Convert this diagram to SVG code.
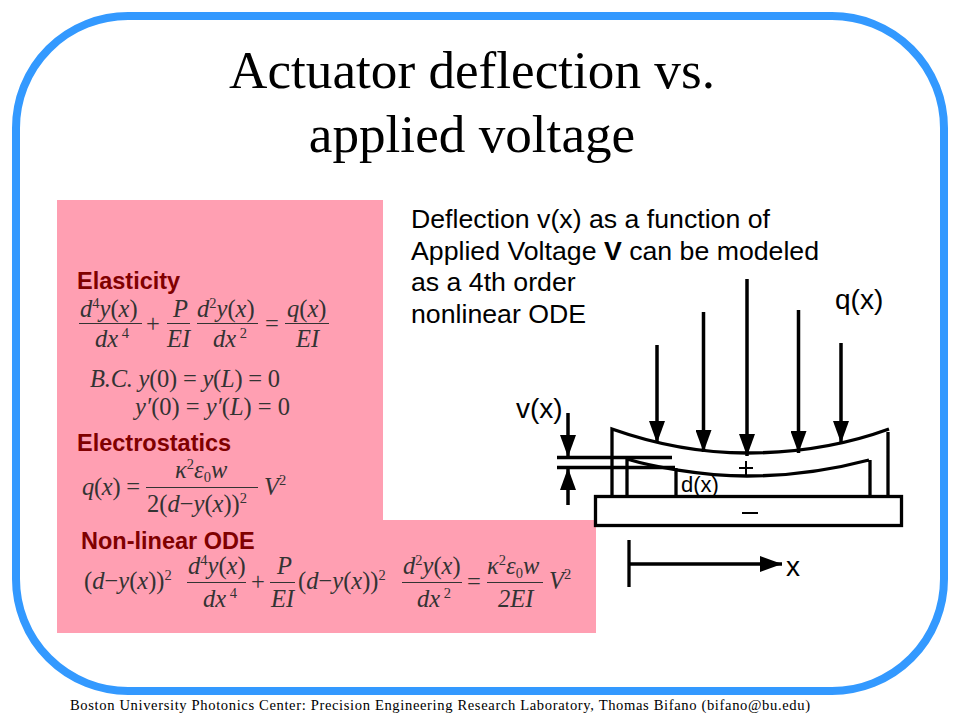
<svg xmlns="http://www.w3.org/2000/svg" width="960" height="720" viewBox="0 0 960 720">
<style>
.title{font:53.2px "Liberation Serif",serif;fill:#000;text-anchor:middle}
.body{font:26.7px "Liberation Sans",Arial,sans-serif;fill:#000}
.lab{font:28px "Liberation Sans",Arial,sans-serif;fill:#000}
.head{font:bold 23.5px "Liberation Sans",Arial,sans-serif;fill:#800000}
.foot{font:14.6px "Liberation Serif",serif;fill:#000}
.eq{font:italic 24.5px "Liberation Serif",serif;fill:#333}
.up{font-style:normal}
.sup{font-size:14.5px;font-style:normal}
.fr{stroke:#333;stroke-width:1;fill:none}
.ln{stroke:#000;stroke-width:3.3;fill:none}
.ar{stroke:#000;stroke-width:3.500;fill:none;marker-end:url(#ah)}
</style>
<defs>
<marker id="ah" markerUnits="userSpaceOnUse" markerWidth="24" markerHeight="16" refX="22" refY="8" orient="auto"><path d="M0 0L22 8L0 16Z" fill="#000"/></marker>
</defs>
<rect width="960" height="720" fill="#fff"/>
<rect x="16" y="16" width="928" height="675" rx="112" ry="112" fill="#fff" stroke="#3399ff" stroke-width="8"/>
<path d="M57 200H383V520H596V633H57Z" fill="#ff9fb2"/>
<text class="title" x="472" y="88">Actuator deflection vs.</text>
<text class="title" x="472" y="152">applied voltage</text>
<g id="description">
<text class="body" x="411" y="228">Deflection v(x) as a function of</text>
<text class="body" x="411" y="260">Applied Voltage <tspan font-weight="bold">V</tspan> can be modeled</text>
<text class="body" x="411" y="291">as a 4th order</text>
<text class="body" x="411" y="323">nonlinear ODE</text>
</g>
<g id="elasticity">
<text class="head" x="77" y="289">Elasticity</text>
<text class="eq" x="80" y="317">d<tspan class="sup" dy="-9">4</tspan><tspan dy="9">y</tspan><tspan class="up">(</tspan>x<tspan class="up">)</tspan></text>
<text class="eq" x="95" y="347">dx<tspan class="sup" dy="-9"> 4</tspan></text>
<text class="eq up" x="146" y="332">+</text>
<text class="eq" x="173" y="317">P</text>
<text class="eq" x="167" y="347">EI</text>
<text class="eq" x="197" y="317">d<tspan class="sup" dy="-9">2</tspan><tspan dy="9">y</tspan><tspan class="up">(</tspan>x<tspan class="up">)</tspan></text>
<text class="eq" x="213" y="347">dx<tspan class="sup" dy="-9"> 2</tspan></text>
<text class="eq up" x="265" y="332">=</text>
<text class="eq" x="287" y="317">q<tspan class="up">(</tspan>x<tspan class="up">)</tspan></text>
<text class="eq" x="296" y="347">EI</text>
<path class="fr" d="M79 323.500H142M167 323.500H190M197 323.500H258M285 323.500H329"/>
<text class="eq" x="90" y="387" textLength="190">B.C. y<tspan class="up">(0)</tspan> <tspan class="up">=</tspan> y<tspan class="up">(</tspan>L<tspan class="up">)</tspan> <tspan class="up">= 0</tspan></text>
<text class="eq" x="135" y="415" textLength="155">y′<tspan class="up">(0)</tspan> <tspan class="up">=</tspan> y′<tspan class="up">(</tspan>L<tspan class="up">)</tspan> <tspan class="up">= 0</tspan></text>
</g>
<g id="electrostatics">
<text class="head" x="77" y="451">Electrostatics</text>
<text class="eq" x="82" y="495" textLength="58">q<tspan class="up">(</tspan>x<tspan class="up">) =</tspan></text>
<text class="eq" x="175" y="478">κ<tspan class="sup" dy="-9">2</tspan><tspan dy="9">ε</tspan><tspan class="sup" dy="4">0</tspan><tspan dy="-4">w</tspan></text>
<text class="eq" x="147" y="512"><tspan class="up">2(</tspan>d<tspan class="up">−</tspan>y<tspan class="up">(</tspan>x<tspan class="up">))</tspan><tspan class="sup" dy="-9">2</tspan></text>
<path class="fr" d="M146 487.500H258"/>
<text class="eq" x="264" y="495">V<tspan class="sup" dy="-10">2</tspan></text>
</g>
<g id="ode">
<text class="head" x="81" y="549">Non-linear ODE</text>
<text class="eq" x="84" y="589"><tspan class="up">(</tspan>d<tspan class="up">−</tspan>y<tspan class="up">(</tspan>x<tspan class="up">))</tspan><tspan class="sup" dy="-9">2</tspan></text>
<text class="eq" x="188" y="574">d<tspan class="sup" dy="-9">4</tspan><tspan dy="9">y</tspan><tspan class="up">(</tspan>x<tspan class="up">)</tspan></text>
<text class="eq" x="203" y="607">dx<tspan class="sup" dy="-9"> 4</tspan></text>
<text class="eq up" x="251" y="590">+</text>
<text class="eq" x="277" y="574">P</text>
<text class="eq" x="271" y="607">EI</text>
<text class="eq" x="298" y="589"><tspan class="up">(</tspan>d<tspan class="up">−</tspan>y<tspan class="up">(</tspan>x<tspan class="up">))</tspan><tspan class="sup" dy="-9">2</tspan></text>
<text class="eq" x="403" y="574">d<tspan class="sup" dy="-9">2</tspan><tspan dy="9">y</tspan><tspan class="up">(</tspan>x<tspan class="up">)</tspan></text>
<text class="eq" x="417" y="607">dx<tspan class="sup" dy="-9"> 2</tspan></text>
<text class="eq up" x="467" y="590">=</text>
<text class="eq" x="487" y="574">κ<tspan class="sup" dy="-9">2</tspan><tspan dy="9">ε</tspan><tspan class="sup" dy="4">0</tspan><tspan dy="-4">w</tspan></text>
<text class="eq" x="498" y="607">2EI</text>
<text class="eq" x="549" y="589">V<tspan class="sup" dy="-10">2</tspan></text>
<path class="fr" d="M187 582.500H246M270 582.500H295M402 582.500H462M487 582.500H543"/>
</g>
<g id="actuator">
<rect class="ln" x="595.500" y="496.500" width="306" height="29"/>
<path class="ln" d="M612 496V429C660 446 705 453 747 453C795 453 845 445 889 429M888 432V496"/>
<path class="ln" d="M627 496V459C650 466 700 476 747 476C790 476 835 469 869 460M870 460V496M676 468V496"/>
<path class="ln" d="M557 457.500H672M557 467.500H675"/>
<path d="M739 468H753M746 461V476M742 513H758" fill="none" stroke="#000" stroke-width="2"/>
</g>
<g id="connectors">
<path class="ar" d="M568 413V457"/>
<path class="ar" d="M568 505V468"/>
<path class="ar" d="M657 345V443"/>
<path class="ar" d="M703.500 312V452"/>
<path class="ar" d="M747 279V456"/>
<path class="ar" d="M798.500 310V453"/>
<path class="ar" d="M841 343V443"/>
<path class="ar" d="M629 564H782"/>
<path class="ln" d="M629 540V587"/>
</g>
<g id="labels">
<text class="lab" x="835" y="309">q(x)</text>
<text class="lab" x="516" y="418">v(x)</text>
<text class="lab" x="786" y="576">x</text>
<text class="lab" x="681" y="492" style="font-size:22px">d(x)</text>
</g>
<text class="foot" x="70" y="710" textLength="740">Boston University Photonics Center: Precision Engineering Research Laboratory, Thomas Bifano (bifano@bu.edu)</text>
</svg>
